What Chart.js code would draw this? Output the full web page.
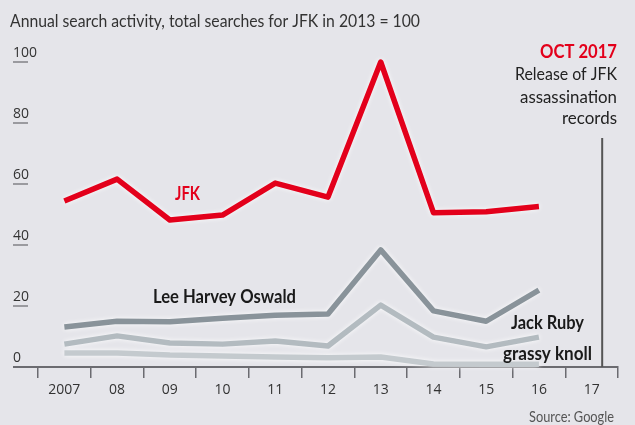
<!DOCTYPE html>
<html lang="en">
<head>
    <meta charset="UTF-8">
    <title>JFK searches</title>
    <style>
        html, body {
            margin: 0;
            padding: 0;
            background: #e5e5ea;
        }
        #wrap {
            position: relative;
            width: 635px;
            height: 425px;
        }
    </style>
    <script src="https://cdn.jsdelivr.net/npm/chart.js"></script>
</head>
<body>
    <div id="wrap"><canvas id="myChart"></canvas></div>
    <script>
        // values, JFK 2013 = 100
        const years = ['2007', '08', '09', '10', '11', '12', '13', '14', '15', '16', '17'];
        const jfk = [54.4, 61.6, 48.2, 49.8, 60.3, 55.7, 100, 50.6, 50.9, 52.6, null];
        const oswald = [13.1, 15, 14.8, 16, 17, 17.4, 38.4, 18.4, 15, 25.2, null];
        const ruby = [7.5, 10.2, 7.9, 7.5, 8.5, 6.9, 20.3, 9.8, 6.6, 9.8, null];
        const knoll = [4.6, 4.6, 3.9, 3.6, 3.3, 3.0, 3.3, 1.0, 0.9, 0.9, null];
        const yTicks = [0, 20, 40, 60, 80, 100];

        const red = '#e3001b';
        const textFont = 'Lato, "Open Sans", sans-serif';
        const numFont = '"Open Sans", sans-serif';

        // the original face is condensed, so squeeze text to its measured width
        function fitText(ctx, str, x, y, width, font, color, align) {
            ctx.save();
            ctx.font = font;
            ctx.fillStyle = color;
            ctx.textBaseline = 'alphabetic';
            ctx.textAlign = 'left';
            const w = ctx.measureText(str).width;
            const sx = Math.min(1.15, width / w);
            const left = align === 'right' ? x - width : x;
            ctx.translate(left, y);
            ctx.scale(sx, 1);
            ctx.fillText(str, 0, 0);
            ctx.restore();
        }

        // white halo under each line
        const halo = {
            id: 'halo',
            beforeDatasetDraw(chart) {
                const ctx = chart.ctx;
                ctx.save();
                ctx.shadowColor = 'rgba(255,255,255,0.9)';
                ctx.shadowBlur = 5;
            },
            afterDatasetDraw(chart) {
                chart.ctx.restore();
            }
        };

        const extras = {
            id: 'extras',
            afterDraw(chart) {
                const ctx = chart.ctx;
                const x = chart.scales.x;
                const y = chart.scales.y;
                const area = chart.chartArea;
                ctx.save();

                // short markers under the y labels
                ctx.strokeStyle = '#9a9a9f';
                ctx.lineWidth = 2;
                yTicks.forEach(v => {
                    if (v === 0) return;
                    const py = y.getPixelForValue(v);
                    ctx.beginPath();
                    ctx.moveTo(13, py);
                    ctx.lineTo(28, py);
                    ctx.stroke();
                });

                // baseline continues to the left edge
                ctx.strokeStyle = '#6b6b70';
                ctx.beginPath();
                ctx.moveTo(13, y.getPixelForValue(0));
                ctx.lineTo(area.left, y.getPixelForValue(0));
                ctx.stroke();

                // Oct 2017 marker
                const rx = x.getPixelForValue(10.2);
                ctx.strokeStyle = '#555';
                ctx.lineWidth = 2;
                ctx.beginPath();
                ctx.moveTo(rx, 138);
                ctx.lineTo(rx, y.getPixelForValue(0));
                ctx.stroke();
                ctx.restore();

                fitText(ctx, 'Annual search activity, total searches for JFK in 2013 = 100', 10, 27, 410, '18px ' + textFont, '#333');
                fitText(ctx, 'OCT 2017', 617, 58, 77, 'bold 19px ' + textFont, red, 'right');
                fitText(ctx, 'Release of JFK', 617, 80, 102, '18px ' + textFont, '#222', 'right');
                fitText(ctx, 'assassination', 617, 103, 97, '18px ' + textFont, '#222', 'right');
                fitText(ctx, 'records', 617, 124, 55, '18px ' + textFont, '#222', 'right');

                fitText(ctx, 'JFK', 175, 200, 25, 'bold 18px ' + textFont, red);
                fitText(ctx, 'Lee Harvey Oswald', 153, 303, 143, 'bold 18px ' + textFont, '#1a1a1a');
                fitText(ctx, 'Jack Ruby', 511, 329, 73, 'bold 18px ' + textFont, '#1a1a1a');
                fitText(ctx, 'grassy knoll', 503, 360, 89, 'bold 18px ' + textFont, '#1a1a1a');

                fitText(ctx, 'Source: Google', 614, 422, 85, '15px ' + textFont, '#555', 'right');
            }
        };

        function line(data, color) {
            return {
                data: data,
                borderColor: color,
                borderWidth: 5.5,
                pointRadius: 0,
                tension: 0,
                clip: false,
                borderJoinStyle: 'round',
                borderCapStyle: 'butt'
            };
        }

        const ctx = document.getElementById('myChart').getContext('2d');
        const myChart = new Chart(ctx, {
            type: 'line',
            data: {
                labels: years,
                datasets: [
                    line(jfk, red),
                    line(oswald, '#89939a'),
                    line(ruby, '#b3bbc0'),
                    line(knoll, '#c4cace')
                ]
            },
            options: {
                responsive: true,
                maintainAspectRatio: false,
                animation: false,
                layout: { padding: { top: 62, left: 13, right: 17, bottom: 0 } },
                plugins: {
                    legend: { display: false },
                    tooltip: { enabled: false }
                },
                scales: {
                    x: {
                        offset: true,
                        afterFit(scale) { scale.height = 58; },
                        grid: {
                            offset: true,
                            drawOnChartArea: false,
                            tickLength: 11,
                            color: '#6b6b70',
                            lineWidth: 1.5
                        },
                        border: { display: true, color: '#6b6b70', width: 2 },
                        ticks: {
                            color: '#333',
                            padding: 4,
                            maxRotation: 0,
                            autoSkip: false,
                            font: { family: numFont, size: 14 }
                        }
                    },
                    y: {
                        min: 0,
                        max: 100,
                        afterFit(scale) { scale.width = 25; },
                        afterBuildTicks(scale) {
                            scale.ticks = yTicks.map(v => ({ value: v }));
                        },
                        grid: { display: false },
                        border: { display: false },
                        ticks: {
                            color: '#333',
                            crossAlign: 'far',
                            labelOffset: -9,
                            padding: 0,
                            font: { family: numFont, size: 14 }
                        }
                    }
                }
            },
            plugins: [halo, extras]
        });
    </script>
</body>
</html>
